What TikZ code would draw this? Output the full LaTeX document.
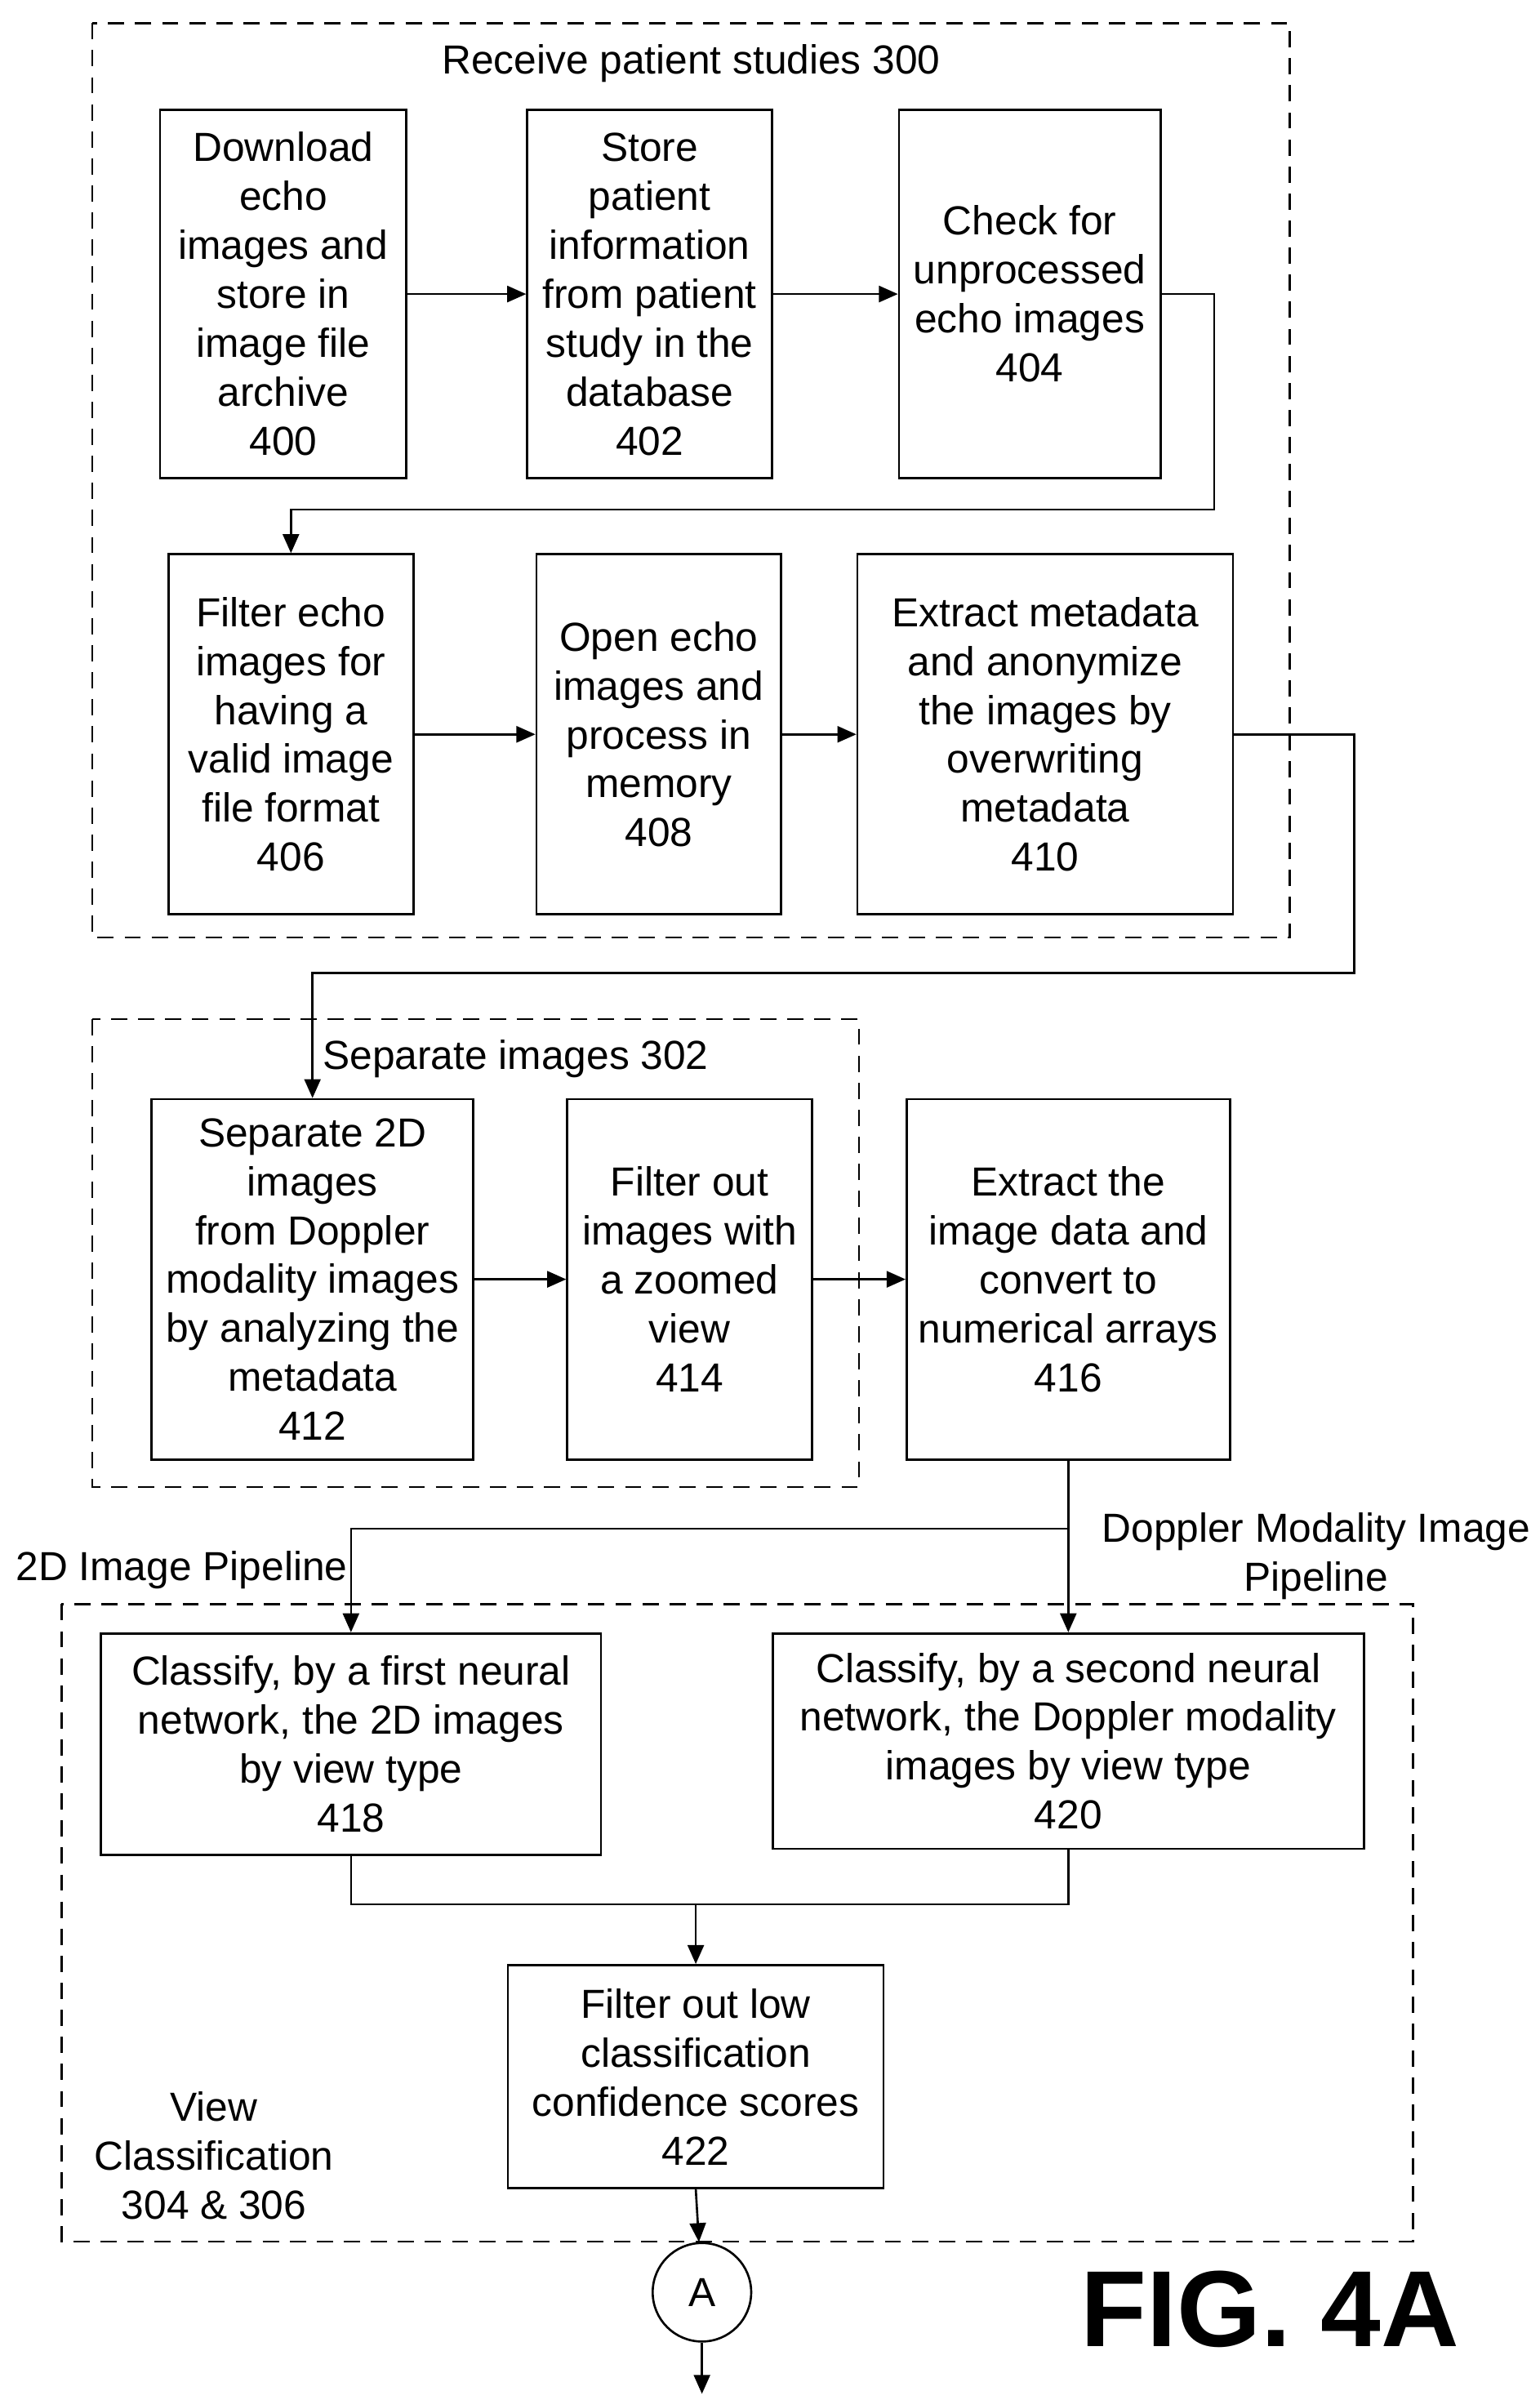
\documentclass[tikz,border=0pt]{standalone}
\usepackage{fontspec}
\setmainfont{Liberation Sans}
\usetikzlibrary{arrows.meta}
\tikzset{
  procbox/.style={draw, thick, align=center, inner sep=2pt},
  frame/.style={draw, thick, dashed, dash pattern=on 6pt off 4pt},
  flow/.style={thick, -{Triangle[length=7pt,width=6pt]}},
  line/.style={thick}
}
\begin{document}
\begin{tikzpicture}[x=0.02cm,y=-0.02cm,font=\fontsize{15}{18.1}\selectfont]
\useasboundingbox (0,0) rectangle (1000,1559);
% dashed frames
\draw [frame] (60,15) rectangle (838,609);
\draw [frame] (60,662) rectangle (558,966);
\draw [frame] (40,1042) rectangle (918,1456);
\node (lab300) at (449,41) {Receive patient studies 300};
\node (lab302) at (335,688) {Separate images 302};
\node (lab2d) at (118,1020) {2D Image Pipeline};
\node [align=center] (labdop) at (855,1011) {Doppler Modality Image\\Pipeline};
\node [align=center] (labview) at (139,1400) {View\\Classification\\304 \& 306};
% boxes
\node [procbox, minimum width=160*0.02cm, minimum height=239*0.02cm] (s400) at (184,191) {Download\\echo\\images and\\store in\\image file\\archive\\400};
\node [procbox, minimum width=159*0.02cm, minimum height=239*0.02cm] (s402) at (422,191) {Store\\patient\\information\\from patient\\study in the\\database\\402};
\node [procbox, minimum width=170*0.02cm, minimum height=239*0.02cm] (s404) at (669,191) {Check for\\unprocessed\\echo images\\404};
\node [procbox, minimum width=159*0.02cm, minimum height=234*0.02cm] (s406) at (189,477) {Filter echo\\images for\\having a\\valid image\\file format\\406};
\node [procbox, minimum width=159*0.02cm, minimum height=234*0.02cm] (s408) at (428,477) {Open echo\\images and\\process in\\memory\\408};
\node [procbox, minimum width=244*0.02cm, minimum height=234*0.02cm] (s410) at (679,477) {Extract metadata\\and anonymize\\the images by\\overwriting\\metadata\\410};
\node [procbox, minimum width=209*0.02cm, minimum height=234*0.02cm] (s412) at (203,831) {Separate 2D\\images\\from Doppler\\modality images\\by analyzing the\\metadata\\412};
\node [procbox, minimum width=159*0.02cm, minimum height=234*0.02cm] (s414) at (448,831) {Filter out\\images with\\a zoomed\\view\\414};
\node [procbox, minimum width=210*0.02cm, minimum height=234*0.02cm] (s416) at (694,831) {Extract the\\image data and\\convert to\\numerical arrays\\416};
\node [procbox, minimum width=325*0.02cm, minimum height=144*0.02cm] (s418) at (228,1133) {Classify, by a first neural\\network, the 2D images\\by view type\\418};
\node [procbox, minimum width=384*0.02cm, minimum height=140*0.02cm] (s420) at (694,1131) {Classify, by a second neural\\network, the Doppler modality\\images by view type\\420};
\node [procbox, minimum width=244*0.02cm, minimum height=145*0.02cm] (s422) at (452,1349) {Filter out low\\classification\\confidence scores\\422};
\node [draw, thick, circle, minimum size=64*0.02cm] (conA) at (456,1489) {A};
\coordinate (outA) at (456,1555);
\node [font=\fontsize{40}{44}\selectfont\bfseries] (fig) at (825,1500) {FIG. 4A};
% connectors
\draw [flow] (s400) -- (s402);
\draw [flow] (s402) -- (s404);
\draw [flow] (s404.east) -- ++(34,0) |- (189,331) -- (s406.north);
\draw [flow] (s406) -- (s408);
\draw [flow] (s408) -- (s410);
\draw [flow] (s410.east) -- ++(78,0) |- (203,632) -- (s412.north);
\draw [flow] (s412) -- (s414);
\draw [flow] (s414) -- (s416);
\coordinate (split) at (694,993);
\draw [line] (s416.south) -- (split);
\draw [flow] (split) -| (s418.north);
\draw [flow] (split) -- (s420.north);
\coordinate (join) at (452,1237);
\draw [line] (s418.south) |- (join);
\draw [line] (s420.south) |- (join);
\draw [flow] (join) -- (s422.north);
\draw [flow] (s422.south) -- (conA);
\draw [flow] (conA) -- (outA);
\end{tikzpicture}
\end{document}
